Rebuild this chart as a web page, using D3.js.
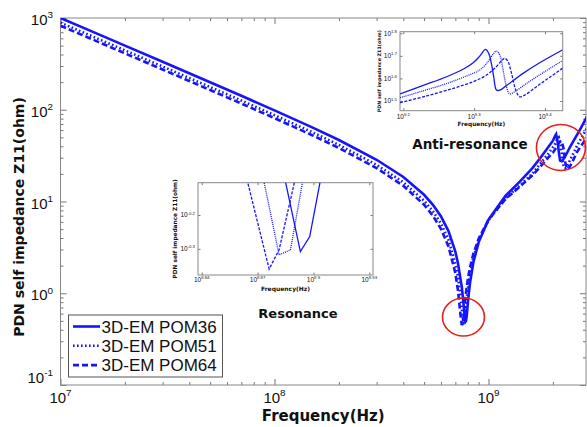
<!DOCTYPE html>
<html>
<head>
<meta charset="utf-8">
<script src="https://cdn.jsdelivr.net/npm/d3@7"></script>
<style>
  body { margin:0; background:#fff; }
  svg { display:block; }
  text { font-family: "Liberation Sans", Arial, sans-serif; fill:#111; }
  .bold { font-family: "DejaVu Sans", Verdana, sans-serif; font-weight: bold; }
</style>
</head>
<body>
<script>
// ---- main chart data : frequency (Hz) and |Z11| (ohm)
var freq = [1e7, 1.5e7, 2e7, 3e7, 5e7, 7e7, 1e8, 1.5e8, 2e8, 3e8, 4e8, 5e8, 5.5e8, 6e8, 6.5e8, 7e8, 7.2e8, 7.4e8,
  7.5e8, 7.6e8, 7.65e8, 7.7e8, 7.75e8, 7.8e8, 7.85e8, 7.9e8, 8e8, 8.1e8, 8.2e8, 8.5e8, 9e8, 1e9, 1.2e9, 1.4e9,
  1.6e9, 1.75e9, 1.9e9, 2e9, 2.04e9, 2.07e9, 2.1e9, 2.13e9, 2.16e9, 2.2e9, 2.24e9, 2.28e9, 2.33e9, 2.4e9, 2.5e9,
  2.6e9, 2.7e9, 2.8e9, 2.9e9];
var zPom36 = [1000, 667, 500, 333, 199.4, 141.9, 98.5, 64.3, 46.8, 28.5, 18.5, 11.84, 9.2, 6.86, 4.76, 2.84, 2.12, 1.42,
  1.18, 0.88, 0.75, 0.63, 0.54, 0.49, 0.50, 0.55, 0.76, 1.02, 1.31, 2.18, 3.61, 6.36, 11.5, 16.5,
  23, 30, 39, 46, 51, 54, 46, 35, 28, 27.5, 29, 31, 34, 39, 46, 54, 63, 74, 86];
var zPom51 = [889, 592.5, 444.2, 295.9, 177.1, 126.0, 87.4, 57.0, 41.4, 25.1, 16.2, 10.2, 7.84, 5.73, 3.83, 2.10, 1.52, 0.93,
  0.69, 0.52, 0.48, 0.49, 0.55, 0.64, 0.74, 0.86, 1.12, 1.38, 1.65, 2.47, 3.75, 6.26, 10.8, 14.9,
  20, 26, 33, 39, 42, 45, 48.5, 50, 44, 33, 25, 23, 24, 28, 34, 41, 48, 56, 64];
var zPom64 = [824.5, 549.5, 412, 274.4, 164.2, 116.8, 81.0, 52.8, 38.3, 23.1, 14.8, 9.22, 6.99, 5.01, 3.24, 1.66, 1.07, 0.58,
  0.45, 0.49, 0.56, 0.66, 0.77, 0.89, 1.02, 1.14, 1.40, 1.66, 1.92, 2.70, 3.95, 6.32, 10.6, 14.5,
  19.2, 24, 30, 34, 36.5, 38.5, 41, 43, 45, 45.5, 38, 27, 22.5, 24, 29, 35, 40, 45, 50];

var seriesNames = ["3D-EM POM36", "3D-EM POM51", "3D-EM POM64"];

// ---- resonance zoom inset (sampled points)
var resF36 = [7.630e8, 7.816e8, 7.907e8, 8.106e8], resZ36 = [0.914, 0.492, 0.545, 1.117];
var resF51 = [7.430e8, 7.613e8, 7.721e8, 7.912e8], resZ51 = [0.920, 0.481, 0.498, 1.059];
var resF64 = [7.248e8, 7.520e8, 7.613e8, 7.801e8], resZ64 = [0.989, 0.437, 0.498, 0.897];

// ---- anti-resonance zoom inset
var arF36 = [1.568e9, 1.691e9, 1.825e9, 1.925e9, 1.989e9, 2.032e9, 2.070e9, 2.092e9, 2.110e9, 2.126e9, 2.145e9, 2.169e9, 2.216e9, 2.339e9, 2.469e9, 2.658e9];
var arZ36 = [34.0, 37.1, 40.5, 43.7, 46.7, 50.0, 53.5, 51.4, 46.4, 40.5, 35.4, 35.3, 37.0, 41.9, 46.7, 53.2];
var arF51 = [1.568e9, 1.691e9, 1.825e9, 1.946e9, 2.032e9, 2.087e9, 2.122e9, 2.145e9, 2.169e9, 2.192e9, 2.216e9, 2.240e9, 2.277e9, 2.365e9, 2.496e9, 2.658e9];
var arZ51 = [32.7, 35.1, 37.8, 40.8, 43.4, 47.2, 51.05, 52.6, 50.5, 43.4, 36.6, 34.0, 34.8, 37.8, 42.2, 47.7];
var arF64 = [1.568e9, 1.710e9, 1.865e9, 1.989e9, 2.077e9, 2.145e9, 2.181e9, 2.204e9, 2.228e9, 2.253e9, 2.284e9, 2.314e9, 2.352e9, 2.443e9, 2.551e9, 2.658e9];
var arZ64 = [31.1, 33.3, 36.0, 38.5, 41.2, 44.9, 47.7, 48.9, 47.2, 41.9, 35.4, 33.0, 33.6, 36.6, 40.3, 44.1];

// tick exponents
var xMainExp = [7, 8, 9], yMainExp = [-1, 0, 1, 2, 3];
var xResExp = ["8.84", "8.87", "8.9", "8.93"], yResExp = ["-0.2", "-0.3"];
var xArExp = ["9.2", "9.3", "9.4"], yArExp = ["1.5", "1.6", "1.7", "1.8"];

// circled spots (freq, Z)
var marks = [[7.64e8, 0.55, 21, 19], [2.18e9, 38.8, 24.5, 23]];

var blue = "#1414ff";
var styles = [{dash: null}, {dash: "1.6,2.4"}, {dash: "6,3"}];

var W = 587, H = 427;
var svg = d3.select("body").append("svg").attr("width", W).attr("height", H);

// ---- main plot
var box = {l: 60.5, r: 586, t: 18, b: 385};
var x = d3.scaleLog().domain([1e7, Math.pow(10, 9.4556)]).range([box.l, box.r]);
var y = d3.scaleLog().domain([0.1, 1000]).range([box.b, box.t]);

svg.append("clipPath").attr("id", "clipMain").append("rect")
  .attr("x", box.l).attr("y", box.t).attr("width", box.r - box.l).attr("height", box.b - box.t);

function ticks(g, xs, ys, b, xMaj, yMaj, xMin, yMin, big, small) {
  var ax = [
    [d3.axisBottom(xs), "translate(0," + b.b + ")", xMaj, xMin],
    [d3.axisTop(xs), "translate(0," + b.t + ")", xMaj, xMin],
    [d3.axisLeft(ys), "translate(" + b.l + ",0)", yMaj, yMin],
    [d3.axisRight(ys), "translate(" + b.r + ",0)", yMaj, yMin]
  ];
  ax.forEach(function (a) {
    [[a[2], big], [a[3], small]].forEach(function (s) {
      if (!s[0].length) return;
      var gg = g.append("g").attr("transform", a[1])
        .call(a[0].tickValues(s[0]).tickSize(-s[1]).tickFormat(""));
      gg.select(".domain").remove();
      gg.selectAll("line").attr("stroke", "#777");
    });
  });
  g.append("rect").attr("x", b.l).attr("y", b.t).attr("width", b.r - b.l).attr("height", b.b - b.t)
    .attr("fill", "none").attr("stroke", "#888").attr("stroke-width", 1);
}

function powText(g, px, py, exp, size, anchor) {
  var t = g.append("text").attr("x", px).attr("y", py).attr("text-anchor", anchor)
    .style("font-size", size + "px");
  t.append("tspan").text("10");
  t.append("tspan").attr("dy", -size * 0.45).style("font-size", (size * 0.66) + "px").text(exp);
  return t;
}

var main = svg.append("g");
var xMajor = xMainExp.map(function (e) { return Math.pow(10, e); });
var yMajor = yMainExp.map(function (e) { return Math.pow(10, e); });
var isPow = function (v) { return Math.abs(Math.log10(v) - Math.round(Math.log10(v))) < 1e-6; };
var xMinor = x.ticks().filter(function (v) { return !isPow(v); });
var yMinor = y.ticks().filter(function (v) { return !isPow(v); });
ticks(main, x, y, box, xMajor, yMajor, xMinor, yMinor, 6, 3);

xMainExp.forEach(function (e) { powText(main, x(Math.pow(10, e)), 403, e, 15, "middle"); });
yMainExp.forEach(function (e) {
  var yy = y(Math.pow(10, e)) + (e === -1 ? -2 : 7);
  powText(main, 53, yy, e, 15, "end");
});

main.append("text").attr("class", "bold").attr("x", (box.l + box.r) / 2).attr("y", 420.5)
  .attr("text-anchor", "middle").style("font-size", "15px").text("Frequency(Hz)");
main.append("text").attr("class", "bold").attr("transform", "translate(24,217) rotate(-90)")
  .attr("text-anchor", "middle").style("font-size", "14px").text("PDN self impedance Z11(ohm)");

var line = d3.line().x(function (d) { return x(d[0]); }).y(function (d) { return y(d[1]); });
var curves = main.append("g").attr("clip-path", "url(#clipMain)");
[zPom36, zPom51, zPom64].forEach(function (zs, i) {
  var pts = freq.map(function (f, k) { return [f, zs[k]]; });
  curves.append("path").attr("d", line(pts)).attr("fill", "none").attr("stroke", blue)
    .attr("stroke-width", 2.6).attr("stroke-dasharray", styles[i].dash);
});

// red circles
marks.forEach(function (m) {
  main.append("ellipse").attr("cx", x(m[0])).attr("cy", y(m[1])).attr("rx", m[2]).attr("ry", m[3])
    .attr("fill", "none").attr("stroke", "#e8201c").attr("stroke-width", 1.6);
});

// legend
var leg = main.append("g");
leg.append("rect").attr("x", 68.5).attr("y", 315).attr("width", 154).attr("height", 62)
  .attr("fill", "#fff").attr("stroke", "#555").attr("stroke-width", 1);
seriesNames.forEach(function (n, i) {
  var ly = 326.5 + i * 19.3;
  leg.append("line").attr("x1", 73).attr("x2", 100).attr("y1", ly).attr("y2", ly)
    .attr("stroke", blue).attr("stroke-width", 2.6).attr("stroke-dasharray", styles[i].dash);
  leg.append("text").attr("x", 101.5).attr("y", ly + 6).style("font-size", "17px").text(n);
});

// ---- inset helper
function inset(b, xDom, yDom, data, xExp, yExp, opt) {
  var g = svg.append("g");
  var xs = d3.scaleLog().domain(xDom).range([b.l, b.r]);
  var ys = d3.scaleLog().domain(yDom).range([b.b, b.t]);
  g.append("rect").attr("x", b.l).attr("y", b.t).attr("width", b.r - b.l).attr("height", b.b - b.t).attr("fill", "#fff");
  var id = "clip" + opt.id;
  svg.append("clipPath").attr("id", id).append("rect")
    .attr("x", b.l).attr("y", b.t).attr("width", b.r - b.l).attr("height", b.b - b.t);
  var xT = xExp.map(function (e) { return Math.pow(10, +e); });
  var yT = yExp.map(function (e) { return Math.pow(10, +e); });
  ticks(g, xs, ys, b, xT, yT, [], [], 2.5, 0);
  var ln = d3.line().x(function (d) { return xs(d[0]); }).y(function (d) { return ys(d[1]); }).curve(opt.curve);
  var cg = g.append("g").attr("clip-path", "url(#" + id + ")");
  data.forEach(function (s, i) {
    var pts = s[0].map(function (f, k) { return [f, s[1][k]]; });
    cg.append("path").attr("d", ln(pts)).attr("fill", "none").attr("stroke", blue)
      .attr("stroke-width", 1.3).attr("stroke-dasharray", opt.dash[i]);
  });
  xExp.forEach(function (e) { powText(g, xs(Math.pow(10, +e)), b.b + opt.xlab, e, 6.5, "middle"); });
  yExp.forEach(function (e) { powText(g, b.l - 3, ys(Math.pow(10, +e)) + 2.5, e, 6.5, "end"); });
  g.append("text").attr("class", "bold").attr("x", (b.l + b.r) / 2).attr("y", b.b + opt.xtitle)
    .attr("text-anchor", "middle").style("font-size", opt.tsize + "px").text("Frequency(Hz)");
  g.append("text").attr("class", "bold")
    .attr("transform", "translate(" + opt.ytx + "," + ((b.t + b.b) / 2) + ") rotate(-90)")
    .attr("text-anchor", "middle").style("font-size", opt.ysize + "px").text("PDN self impedance Z11(ohm)");
}

inset({l: 198, r: 373, t: 182.7, b: 275}, [Math.pow(10, 8.838), Math.pow(10, 8.932)], [Math.pow(10, -0.377), Math.pow(10, -0.105)],
  [[resF36, resZ36], [resF51, resZ51], [resF64, resZ64]], xResExp, yResExp,
  {id: "res", curve: d3.curveLinear, dash: [null, "1,1", "3,1.5"], xlab: 7, xtitle: 15.5, tsize: 6, ytx: 177, ysize: 5.8});

inset({l: 400, r: 562.7, t: 31.7, b: 110.7}, [Math.pow(10, 9.1953), Math.pow(10, 9.425)], [Math.pow(10, 1.457), Math.pow(10, 1.807)],
  [[arF36, arZ36], [arF51, arZ51], [arF64, arZ64]], xArExp, yArExp,
  {id: "ar", curve: d3.curveCatmullRom, dash: [null, "1,1", "3,1.5"], xlab: 8.5, xtitle: 15, tsize: 5.8, ytx: 381, ysize: 4.8});

// annotations
svg.append("text").attr("class", "bold").attr("x", 298).attr("y", 317.5).attr("text-anchor", "middle")
  .style("font-size", "13px").text("Resonance");
svg.append("text").attr("class", "bold").attr("x", 470).attr("y", 148.5).attr("text-anchor", "middle")
  .style("font-size", "13.5px").text("Anti-resonance");
</script>
</body>
</html>
